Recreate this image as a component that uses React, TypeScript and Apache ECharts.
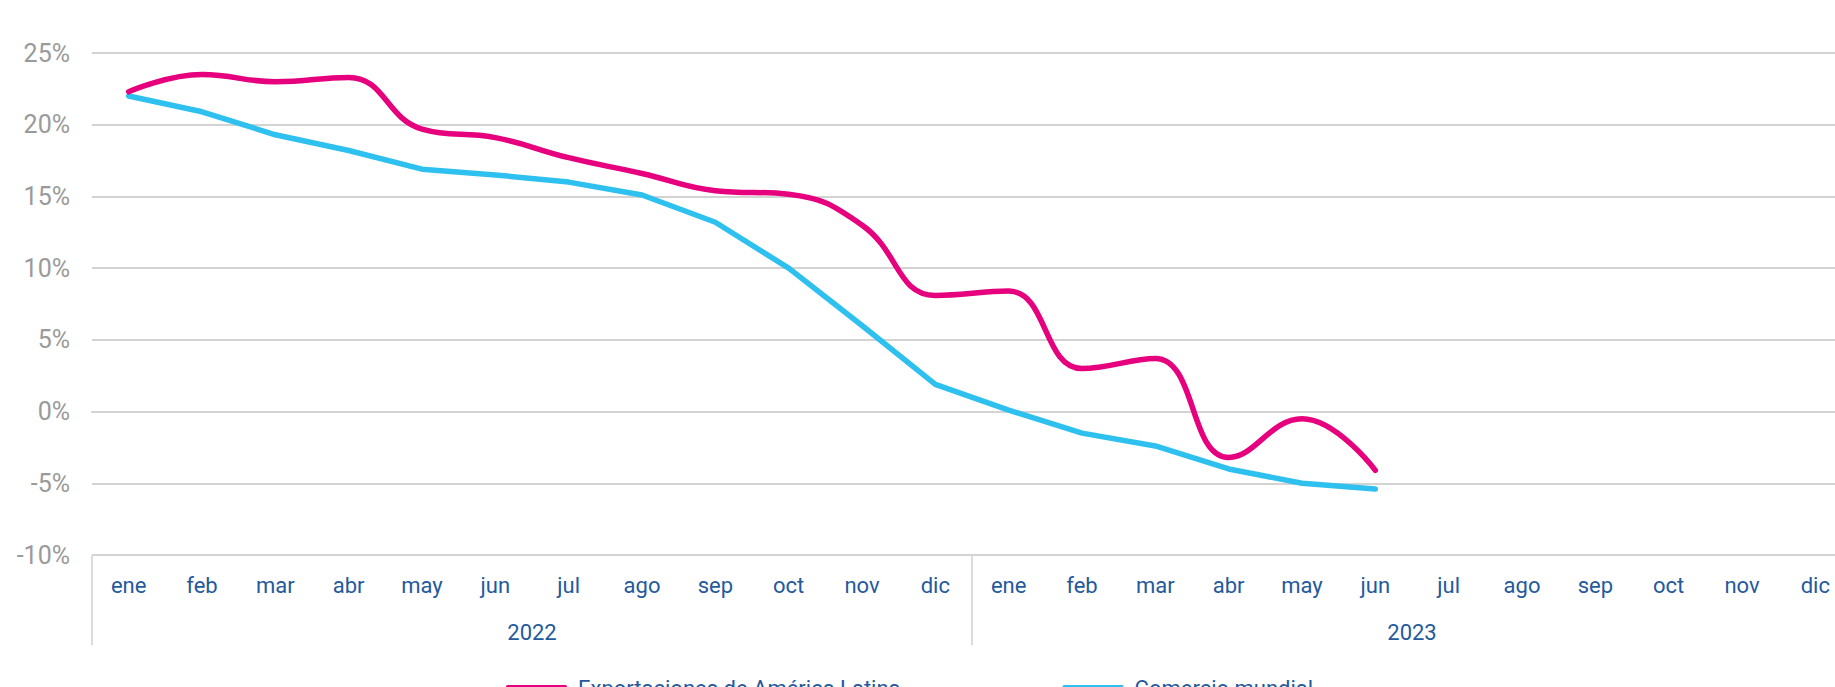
import React, { useEffect, useRef } from "react";
import * as echarts from "echarts";

const months = ["ene", "feb", "mar", "abr", "may", "jun", "jul", "ago", "sep", "oct", "nov", "dic"];
const categories = [...months, ...months];
const years = ["2022", "2023"];

const exportacionesAL = [22.3, 23.5, 23.0, 23.3, 19.7, 19.1, 17.7, 16.6, 15.4, 15.15, 13.0, 8.1, 8.4, 3.0, 3.7, -3.2, -0.5, -4.1, null, null, null, null, null, null];
const comercioMundial = [22.0, 20.9, 19.3, 18.2, 16.9, 16.5, 16.0, 15.1, 13.2, 10.0, 6.0, 1.9, 0.1, -1.5, -2.4, -4.0, -5.0, -5.4, null, null, null, null, null, null];

const seriesNames = ["Exportaciones de América Latina", "Comercio mundial"];

const MAGENTA = "#E6007E";
const CYAN = "#2EC0EE";
const BLUE = "#245A9C";
const GRID = "#D3D3D3";

export default function App() {
  const ref = useRef<HTMLDivElement>(null);

  useEffect(() => {
    if (!ref.current) return;
    const chart = echarts.init(ref.current, null, { renderer: "svg" });
    const font = "Roboto, 'Noto Sans', sans-serif";
    chart.setOption({
      animation: false,
      backgroundColor: "#ffffff",
      textStyle: { fontFamily: font },
      grid: { left: 92, right: 0, top: 53, bottom: 132, containLabel: false },
      legend: {
        left: 501,
        top: 671,
        itemWidth: 61,
        itemHeight: 6,
        itemGap: 162,
        icon: "roundRect",
        textStyle: { fontSize: 22, color: BLUE, fontFamily: font, padding: [0, 0, 0, 6], lineHeight: 24 },
        data: seriesNames,
      },
      xAxis: [
        {
          type: "category",
          data: categories,
          boundaryGap: true,
          position: "bottom",
          axisLine: { show: true, lineStyle: { color: GRID, width: 2 } },
          axisTick: { show: false },
          axisLabel: { color: BLUE, fontSize: 22, margin: 19, interval: 0, fontFamily: font },
        },
        {
          type: "category",
          data: years,
          boundaryGap: true,
          position: "bottom",
          axisLine: { show: false },
          axisTick: { show: true, length: 90, interval: 0, lineStyle: { color: "#DCDCDC", width: 2 } },
          axisLabel: { color: BLUE, fontSize: 22, margin: 66, fontFamily: font },
        },
      ],
      yAxis: {
        type: "value",
        min: -10,
        max: 25,
        interval: 5,
        axisLine: { show: false },
        axisTick: { show: false },
        splitLine: { show: true, lineStyle: { color: GRID, width: 2 } },
        axisLabel: { color: "#9A9A9A", fontSize: 25, margin: 22, formatter: "{value}%", fontFamily: font },
      },
      series: [
        {
          name: seriesNames[0],
          type: "line",
          data: exportacionesAL,
          smooth: 0.45,
          symbol: "none",
          color: MAGENTA,
          lineStyle: { color: MAGENTA, width: 5.5, cap: "round", join: "round" },
          z: 3,
        },
        {
          name: seriesNames[1],
          type: "line",
          data: comercioMundial,
          smooth: false,
          symbol: "none",
          color: CYAN,
          lineStyle: { color: CYAN, width: 5.5, cap: "round", join: "round" },
          z: 2,
        },
      ],
    });
    return () => chart.dispose();
  }, []);

  return (
    <div
      ref={ref}
      style={{ position: "fixed", left: 0, top: 0, width: 1852, height: 687 }}
    />
  );
}
